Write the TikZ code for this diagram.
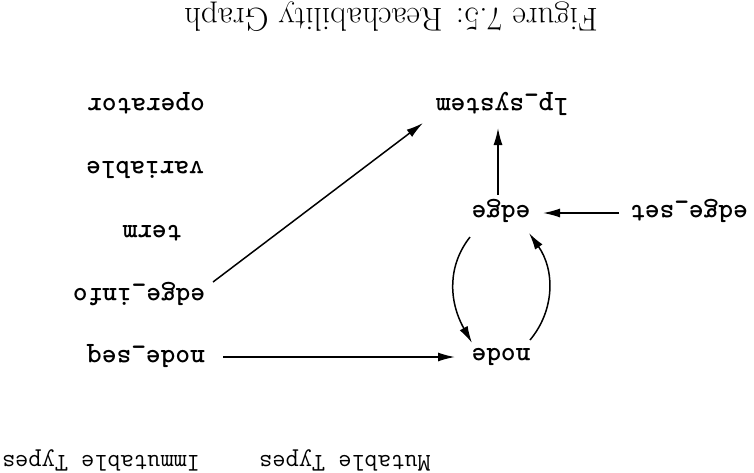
\documentclass[tikz,border=0pt]{standalone}
\usepackage{fontspec}
\usetikzlibrary{arrows.meta,calc}
\begin{document}
\begin{tikzpicture}[x=0.5pt,y=-0.5pt,
  lbl/.style={rotate=180,inner sep=0pt,font=\fontsize{14}{16}\selectfont\ttfamily\bfseries\addfontfeatures{FakeBold=1.5}},
  grouplbl/.style={rotate=180,inner sep=0pt,font=\fontsize{12.8}{15}\selectfont\ttfamily},
  ttl/.style={rotate=180,inner sep=0pt,font=\fontsize{16.5}{19}\selectfont},
  arr/.style={line width=0.75pt,-{Latex[length=8.5pt,width=4.5pt]}}]
\useasboundingbox (0,0) rectangle (754,472);
\node[ttl] (title) at (391,17) {Figure 7.5: Reachability Graph};
\node[lbl] (operator) at (146,103) {operator};
\node[lbl] (variable) at (145,170) {variable};
\node[lbl] (term) at (152,233) {term};
\node[lbl] (edgeinfo) at (139,294) {edge\_info};
\node[lbl] (nodeseq) at (146,356) {node\_seq};
\node[lbl] (lpsystem) at (502,104) {lp\_system};
\node[lbl] (edge) at (501,211) {edge};
\node[lbl] (edgeset) at (689,211) {edge\_set};
\node[lbl] (node) at (501,357) {node};
\node[grouplbl] (mutable) at (345,460) {Mutable Types};
\node[grouplbl] (immutable) at (101,460) {Immutable Types};
\draw[arr] ($(edgeinfo)+(74,-12)$) -- ($(lpsystem)+(-79,19)$);
\draw[arr] ($(nodeseq)+(77,1)$) -- ($(node)+(-46,0)$);
\draw[arr] ($(edge)+(-3,-16)$) -- ($(lpsystem)+(-4,24)$);
\draw[arr] ($(edgeset)+(-70,2)$) -- ($(edge)+(42,2)$);
\draw[arr] ($(edge)+(-31,26)$) .. controls (448,265) and (448,300) .. ($(node)+(-29,-14)$);
\draw[arr] ($(node)+(29,-17)$) .. controls (555,310) and (555,270) .. ($(edge)+(28,22)$);
\end{tikzpicture}
\end{document}
